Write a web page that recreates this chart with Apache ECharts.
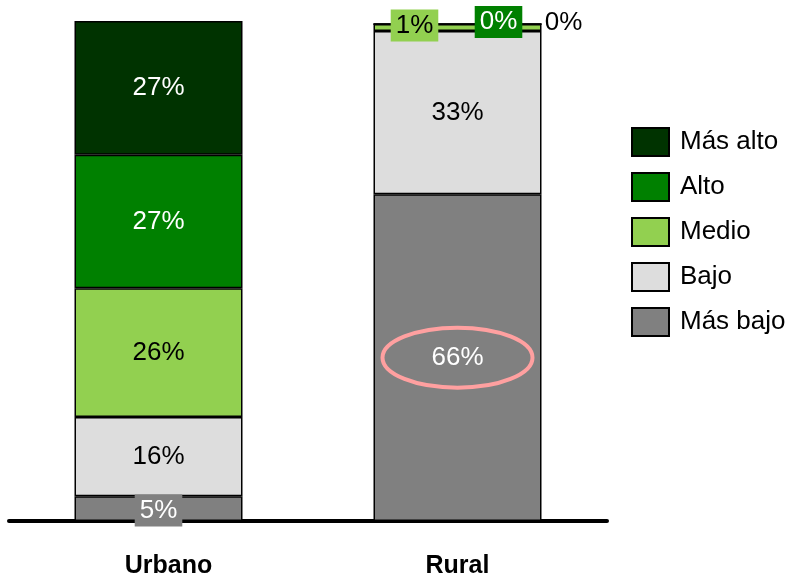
<!DOCTYPE html>
<html>
<head>
    <meta charset="utf-8">
    <title>Urbano / Rural</title>
    <script src="https://cdn.jsdelivr.net/npm/echarts@6/dist/echarts.min.js"></script>
</head>
<body style="margin:0;">
    <div id="main" style="width: 790px;height:576px;"></div>
    <script type="text/javascript">
    // datos
    var categorias = ['Urbano', 'Rural'];
    var niveles = ['Más bajo', 'Bajo', 'Medio', 'Alto', 'Más alto'];
    var masBajo = [5, 66];
    var bajo = [16, 33];
    var medio = [26, 1.4];
    var alto = [27, 0];
    var masAlto = [27, 0];

    var colores = ['#808080', '#DDDDDD', '#92D050', '#008000', '#003300'];
    var textoColores = ['#fff', '#000', '#000', '#fff', '#fff'];
    var valores = [masBajo, bajo, medio, alto, masAlto];
    var fuente = 'Liberation Sans, Arial';

    // etiquetas de segmentos pequeños (desplazadas, con fondo)
    var etiquetasEspeciales = {
        '0-0': {backgroundColor: '#808080', padding: [3, 5], offset: [0, 2]},
        '2-1': {backgroundColor: '#92D050', padding: [3, 5], offset: [-43, -2]},
        '3-1': {backgroundColor: '#008000', padding: [3, 5], offset: [41, -2]},
        '4-1': {color: '#000', offset: [106, -1]}
    };

    var series = [];
    for (var s = 0; s < niveles.length; s++) {
        var data = [];
        for (var i = 0; i < categorias.length; i++) {
            var item = {value: valores[s][i]};
            var esp = etiquetasEspeciales[s + '-' + i];
            if (esp) {
                item.label = Object.assign({}, esp);
            }
            data.push(item);
        }
        series.push({
            name: niveles[s],
            type: 'bar',
            stack: 'total',
            barWidth: 168,
            data: data,
            itemStyle: {color: colores[s], borderColor: '#000', borderWidth: 1.5},
            label: {
                show: true,
                position: 'inside',
                formatter: function (p) { return Math.round(p.value) + '%'; },
                color: textoColores[s],
                fontFamily: fuente,
                fontSize: 26
            }
        });
    }

    var myChart = echarts.init(document.getElementById('main'));

    var option = {
        animation: false,
        backgroundColor: '#fff',
        grid: {left: 9, right: 183, top: 21, bottom: 55, containLabel: false, outerBoundsMode: 'none'},
        legend: {
            orient: 'vertical',
            left: 631,
            top: 127,
            padding: 0,
            icon: 'rect',
            data: niveles.slice().reverse(),
            itemWidth: 37,
            itemHeight: 28,
            itemGap: 15,
            textStyle: {fontFamily: fuente, fontSize: 26, color: '#000', padding: [0, 0, 0, 6]}
        },
        xAxis: {
            type: 'category',
            data: [
                {value: 'Urbano', textStyle: {padding: [0, 0, 0, 20]}},
                'Rural'
            ],
            axisLine: {lineStyle: {color: '#000', width: 4}},
            axisTick: {show: false},
            axisLabel: {
                margin: 33,
                color: '#000',
                fontWeight: 'bold',
                fontSize: 25,
                fontFamily: fuente
            }
        },
        yAxis: {
            type: 'value',
            min: 0,
            max: 101,
            show: false
        },
        series: series
    };

    myChart.setOption(option);

    // elipse resaltando el 66% rural
    var centro = myChart.convertToPixel({gridIndex: 0}, ['Rural', masBajo[1] / 2]);
    myChart.setOption({
        graphic: [{
            type: 'ellipse',
            shape: {cx: centro[0], cy: centro[1], rx: 75, ry: 30},
            style: {fill: 'none', stroke: '#FFA0A0', lineWidth: 4},
            z: 100
        }]
    });
    </script>
</body>
</html>
